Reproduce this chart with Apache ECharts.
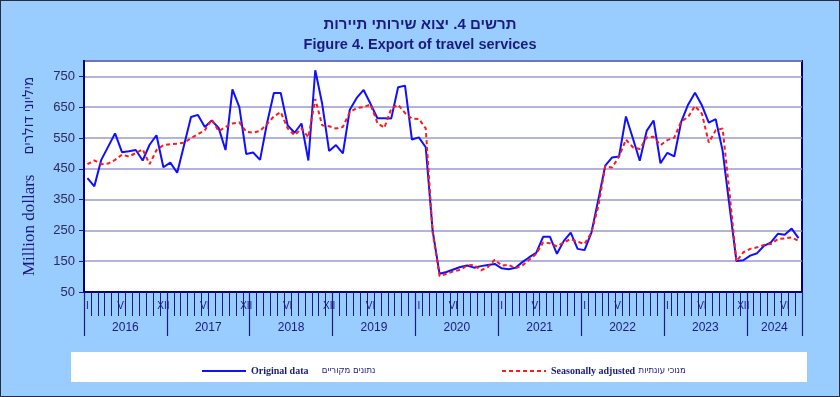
<!DOCTYPE html>
<html lang="en" style="height: 100%">
<head>
  <meta charset="utf-8">
</head>
<body style="height: 100%; margin: 0">
  <div id="container" style="height: 100%; box-sizing: border-box; border: 1.5px solid #2a2a3a"></div>

  <script type="text/javascript" src="https://cdn.jsdelivr.net/npm/echarts@6/dist/echarts.min.js"></script>

  <script type="text/javascript">
    // years and roman month names on the axis
    var years = [2016, 2017, 2018, 2019, 2020, 2021, 2022, 2023, 2024];
    var romanMonths = ['I', 'II', 'III', 'IV', 'V', 'VI', 'VII', 'VIII', 'IX', 'X', 'XI', 'XII'];
    var monthsIn2024 = 8;
    // month positions that carry a label (as in the original)
    var shownMonthLabels = [0, 5, 11, 17, 23, 29, 35, 41, 48, 53, 60, 65, 72, 77, 84, 89, 95, 101];
    var yTicks = [50, 150, 250, 350, 450, 550, 650, 750];

    // million dollars, Jan 2016 - Aug 2024
    var originalData = [
      420, 393, 479, 522, 565, 504, 507, 511, 477, 528, 559, 455,
      470, 437, 527, 618, 625, 586, 607, 583, 511, 708, 650, 498,
      503, 479, 597, 696, 696, 591, 567, 597, 477, 770, 661, 508,
      527, 500, 642, 680, 706, 661, 614, 614, 613, 715, 720, 545,
      552, 520, 249, 109, 115, 123, 131, 136, 129, 134, 138, 141,
      127, 124, 129, 147, 163, 177, 229, 229, 174, 216, 243, 190,
      186, 243, 350, 460, 487, 490, 620, 549, 476, 573, 607, 468,
      502, 490, 602, 658, 697, 656, 600, 611, 509, 329, 151, 153,
      168, 176, 200, 211, 239, 236, 256, 225
    ];
    var seasonallyAdjusted = [
      465, 477, 465, 467, 479, 496, 490, 501, 513, 465, 511, 527,
      530, 531, 535, 549, 562, 575, 610, 572, 586, 597, 601, 570,
      567, 573, 595, 620, 634, 581, 559, 581, 552, 677, 591, 588,
      581, 586, 634, 647, 650, 659, 599, 583, 645, 658, 631, 613,
      612, 581, 243, 102, 109, 117, 122, 136, 138, 120, 131, 155,
      136, 138, 127, 136, 155, 174, 211, 208, 198, 211, 222, 213,
      206, 243, 329, 458, 454, 490, 545, 520, 514, 552, 554, 527,
      543, 551, 604, 618, 654, 629, 535, 575, 581, 372, 149, 179,
      190, 195, 203, 206, 222, 224, 227, 216
    ];

    var monthCats = [];
    years.forEach(function (y, k) {
      var n = k === years.length - 1 ? monthsIn2024 : 12;
      for (var m = 0; m < n; m++) monthCats.push(romanMonths[m]);
    });
    var nMonths = monthCats.length;
    // half-month steps so year ticks sit on boundaries and labels mid-year
    var halfCats = [];
    for (var h = 0; h <= nMonths * 2; h++) halfCats.push(h);
    function yearLabelAt(h) {
      for (var k = 0; k < years.length; k++) {
        var start = k * 24;
        var len = (k === years.length - 1 ? monthsIn2024 : 12) * 2;
        if (h === start + len / 2) return years[k];
      }
      return null;
    }

    var navy = '#1a1a80';
    var legendRich = {
      en: { color: navy, fontSize: 10, fontWeight: 'bold', fontFamily: 'Liberation Serif' },
      he: { color: navy, fontSize: 9.5, fontFamily: 'DejaVu Sans Condensed' }
    };

    var dom = document.getElementById('container');
    var myChart = echarts.init(dom, null, { renderer: 'canvas' });

    var option = {
      backgroundColor: '#99ccff',
      animation: false,
      title: {
        text: 'תרשים 4. יצוא שירותי תיירות',
        subtext: 'Figure 4. Export of travel services',
        left: 'center',
        top: 11,
        itemGap: 5,
        textStyle: { color: navy, fontSize: 15, fontWeight: 'bold', fontFamily: 'Liberation Sans' },
        subtextStyle: { color: navy, fontSize: 14.5, fontWeight: 'bold', fontFamily: 'Liberation Sans' }
      },
      graphic: [{
        type: 'rect', left: 70, top: 351, shape: { width: 736, height: 30 },
        style: { fill: '#ffffff' }, z: -1
      }],
      legend: [{
        data: ['Original data'],
        left: 195, top: 359,
        itemWidth: 44, itemHeight: 10,
        itemStyle: { opacity: 0 },
        formatter: function () { return '{en|Original data}    {he|נתונים מקוריים}'; },
        textStyle: { rich: legendRich }
      }, {
        data: ['Seasonally adjusted'],
        left: 495, top: 359,
        itemWidth: 44, itemHeight: 10,
        itemStyle: { opacity: 0 },
        formatter: function () { return '{en|Seasonally adjusted} {he|מנוכי עונתיות}'; },
        textStyle: { rich: legendRich }
      }],
      grid: {
        left: 83, right: 37, top: 60, bottom: 104,
        show: true, backgroundColor: '#ffffff', borderColor: '#000080', borderWidth: 2
      },
      xAxis: [{
        type: 'category',
        data: monthCats,
        boundaryGap: true,
        axisLine: { show: true, lineStyle: { color: '#000080', width: 2 } },
        axisTick: { show: true, interval: 0, length: 24, lineStyle: { color: navy, width: 1 } },
        axisLabel: {
          interval: function (i) { return shownMonthLabels.indexOf(i) >= 0; },
          color: navy, fontSize: 10, margin: 9, fontFamily: 'Liberation Sans'
        },
        splitLine: { show: false }
      }, {
        type: 'category',
        data: halfCats,
        position: 'bottom',
        boundaryGap: false,
        axisLine: { show: false },
        axisTick: {
          show: true,
          interval: function (i) { return i % 24 === 0 || i === nMonths * 2; },
          length: 44, lineStyle: { color: navy, width: 1.2 }
        },
        axisLabel: {
          interval: function (i) { return yearLabelAt(i) !== null; },
          formatter: function (v, i) { return yearLabelAt(i) || ''; },
          color: navy, fontSize: 12, margin: 30, fontFamily: 'Liberation Sans'
        },
        splitLine: { show: false }
      }],
      yAxis: {
        type: 'value',
        min: 50, max: 800, interval: 100,
        name: '{en|Million dollars}      {he|מיליוני דולרים}',
        nameLocation: 'middle',
        nameRotate: 90,
        nameGap: 46,
        nameTextStyle: { rich: {
          en: { color: navy, fontSize: 17, fontFamily: 'Liberation Serif' },
          he: { color: navy, fontSize: 15, fontFamily: 'DejaVu Sans Condensed' }
        } },
        axisLine: { show: true, lineStyle: { color: '#000080', width: 2 } },
        axisTick: { show: true, length: 5, lineStyle: { color: navy } },
        axisLabel: {
          showMaxLabel: false,
          color: '#2b2b5c', fontSize: 13, margin: 9, fontFamily: 'Liberation Sans',
          formatter: function (v) { return yTicks.indexOf(v) >= 0 ? v : ''; }
        },
        splitLine: { lineStyle: { color: '#9a9ad0', width: 1.5 } }
      },
      series: [{
        name: 'Original data',
        type: 'line',
        data: originalData,
        symbol: 'none',
        lineStyle: { color: '#1010ff', width: 2 },
        itemStyle: { color: '#1010ff' },
        z: 3
      }, {
        name: 'Seasonally adjusted',
        type: 'line',
        data: seasonallyAdjusted,
        symbol: 'none',
        lineStyle: { color: '#ff1a1a', width: 2, type: [4, 3] },
        itemStyle: { color: '#ff1a1a' },
        z: 4
      }]
    };

    myChart.setOption(option);
    window.addEventListener('resize', myChart.resize);
  </script>
</body>
</html>
